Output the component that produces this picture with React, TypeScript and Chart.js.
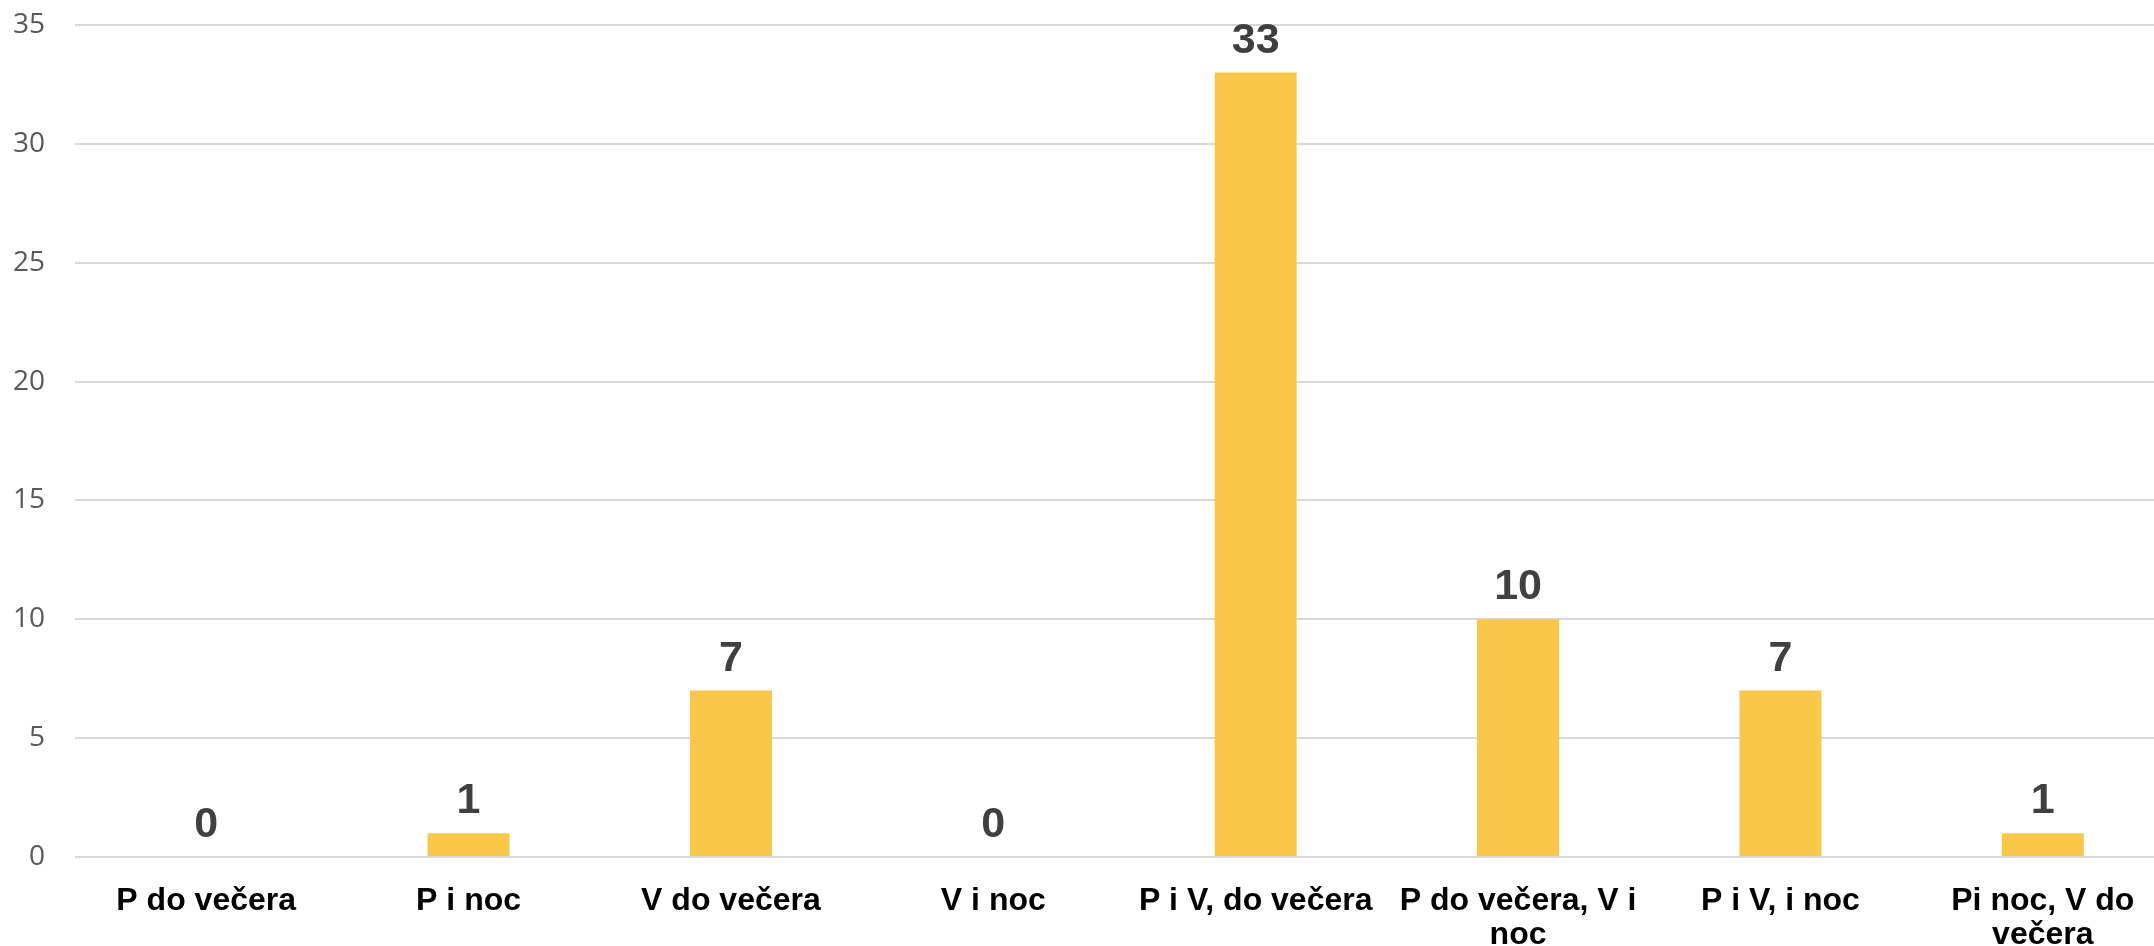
import React, { useEffect, useRef } from "react";
import { Chart, registerables } from "chart.js";

Chart.register(...registerables);

const categories: (string | string[])[] = [
  "P do večera",
  "P i noc",
  "V do večera",
  "V i noc",
  "P i V, do večera",
  ["P do večera, V i", "noc"],
  "P i V, i noc",
  ["Pi noc, V do", "večera"],
];
const values: number[] = [0, 1, 7, 0, 33, 10, 7, 1];
const yTicks: number[] = [0, 5, 10, 15, 20, 25, 30, 35];

const barColor = "#F9C74A";
const gridColor = "#D9D9D9";

const valueLabels = {
  id: "valueLabels",
  afterDatasetsDraw(chart: any) {
    const ctx = chart.ctx;
    const meta = chart.getDatasetMeta(0);
    ctx.save();
    ctx.font = "bold 43px 'Liberation Sans', Arial, sans-serif";
    ctx.fillStyle = "#404040";
    ctx.textAlign = "center";
    ctx.textBaseline = "alphabetic";
    meta.data.forEach((el: any, i: number) => {
      ctx.fillText(String(values[i]), el.x, el.y - 20);
    });
    ctx.restore();
  },
};

export default function App() {
  const ref = useRef<HTMLCanvasElement | null>(null);
  useEffect(() => {
    if (!ref.current) return;
    const chart = new Chart(ref.current, {
      type: "bar",
      data: {
        labels: categories,
        datasets: [
          {
            data: values,
            backgroundColor: barColor,
            barPercentage: 0.3126,
            categoryPercentage: 1,
          },
        ],
      },
      options: {
        animation: false,
        responsive: false,
        maintainAspectRatio: false,
        layout: { padding: { top: 25, left: 0, right: 0, bottom: 0 } },
        plugins: {
          legend: { display: false },
          tooltip: { enabled: false },
        },
        scales: {
          x: {
            afterFit: (s: any) => {
              s.height = 89;
              s.paddingLeft = 0;
              s.paddingRight = 0;
            },
            grid: { display: false, drawTicks: false },
            border: { display: false },
            ticks: {
              autoSkip: false,
              maxRotation: 0,
              minRotation: 0,
              padding: 27,
              color: "#000000",
              font: {
                family: "'Liberation Sans', Arial, sans-serif",
                size: 32,
                weight: "bold",
                lineHeight: 34 / 32,
              },
            },
          },
          y: {
            min: 0,
            max: 35,
            afterFit: (s: any) => {
              s.width = 75;
              s.paddingTop = 0;
              s.paddingBottom = 0;
            },
            afterBuildTicks: (s: any) => {
              s.ticks = yTicks.map((v) => ({ value: v }));
            },
            grid: { color: gridColor, lineWidth: 2, drawTicks: false },
            border: { display: false },
            ticks: {
              padding: 30,
              color: "#595959",
              font: { family: "'Open Sans', sans-serif", size: 28 },
            },
          },
        },
      },
      plugins: [valueLabels],
    });
    return () => chart.destroy();
  }, []);
  return (
    <div style={{ position: "fixed", left: 0, top: 0, width: 2174, height: 946, background: "#fff" }}>
      <canvas ref={ref} width={2174} height={946} />
    </div>
  );
}
